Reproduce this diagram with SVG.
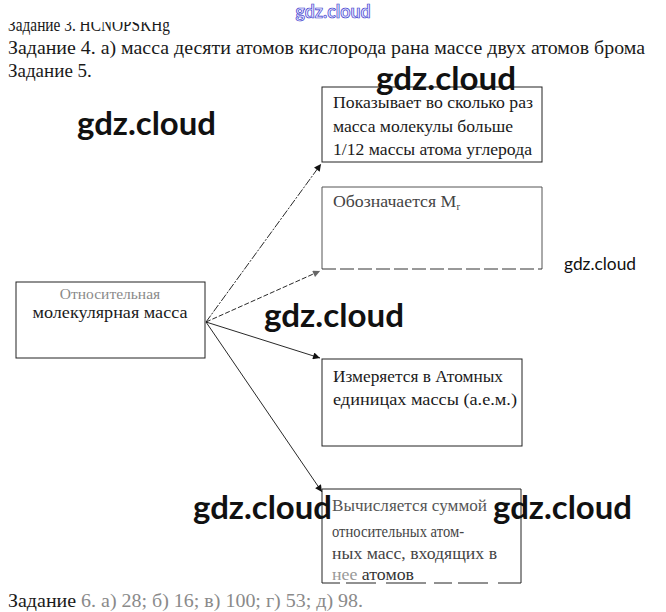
<svg xmlns="http://www.w3.org/2000/svg" width="666" height="612" viewBox="0 0 666 612">
<defs>
<marker id="ah" viewBox="0 0 10 10" refX="10" refY="5" markerWidth="9" markerHeight="7" orient="auto" markerUnits="userSpaceOnUse">
<path d="M0,0 L10,5 L0,10 z" fill="#111"/>
</marker>
<marker id="ahg" viewBox="0 0 10 10" refX="10" refY="5" markerWidth="9" markerHeight="7" orient="auto" markerUnits="userSpaceOnUse">
<path d="M0,0 L10,5 L0,10 z" fill="#666"/>
</marker>
<clipPath id="topclip"><rect x="0" y="22" width="666" height="20"/></clipPath>
</defs>
<style>
.t{font-family:"Liberation Serif","Times New Roman",serif;fill:#1a1a1a}
.hd{font-size:19px}
.bx{font-size:16.5px}
.g{fill:#8a8a8a}
.box{fill:#fff;stroke:#222;stroke-width:1}
.wm{font-family:Lato,"Open Sans",sans-serif;font-weight:bold;font-size:32px;fill:#111}
.wms{font-family:Lato,"Open Sans",sans-serif;font-size:17px;fill:#111}
.ln{stroke:#111;stroke-width:0.9;fill:none}
</style>
<rect width="666" height="612" fill="#fff"/>

<g id="header">
<text class="t hd" x="8" y="31" clip-path="url(#topclip)" textLength="162" lengthAdjust="spacingAndGlyphs">Задание 3. HCNOPSKHg</text>
<text class="t hd" x="8" y="54" textLength="637" lengthAdjust="spacingAndGlyphs">Задание 4. а) масса десяти атомов кислорода рана массе двух атомов брома</text>
<text class="t hd" x="8" y="77">Задание 5.</text>
</g>

<g id="connectors">
<line class="ln" x1="206" y1="322" x2="321" y2="164" stroke="#333" stroke-dasharray="8 1.5 2 1.5" marker-end="url(#ah)"/>
<line class="ln" x1="206" y1="322" x2="320" y2="271" stroke="#666" stroke-dasharray="5 2" marker-end="url(#ahg)"/>
<line class="ln" x1="206" y1="322" x2="320" y2="358" marker-end="url(#ah)"/>
<line class="ln" x1="206" y1="322" x2="322" y2="492" marker-end="url(#ah)"/>
</g>

<g id="node-main">
<rect class="box" x="16" y="282" width="189" height="76"/>
<text class="t g" x="110" y="299" font-size="15.5" text-anchor="middle">Относительная</text>
<text class="t bx" x="110" y="318" text-anchor="middle" textLength="155" lengthAdjust="spacingAndGlyphs">молекулярная масса</text>
</g>

<g id="node-1">
<rect class="box" x="322" y="87" width="220" height="75"/>
<text class="t bx" x="333" y="108" textLength="200" lengthAdjust="spacingAndGlyphs">Показывает во сколько раз</text>
<text class="t bx" x="333" y="132" textLength="180" lengthAdjust="spacingAndGlyphs">масса молекулы больше</text>
<text class="t bx" x="333" y="155" textLength="199" lengthAdjust="spacingAndGlyphs">1/12 массы атома углерода</text>
</g>

<g id="node-2">
<path d="M322,269 V187 H542 V269" fill="none" stroke="#555" stroke-width="1"/>
<line x1="322" y1="269" x2="542" y2="269" stroke="#333" stroke-width="1" stroke-dasharray="14 4"/>
<text class="t bx" x="333" y="207" style="fill:#444" textLength="127" lengthAdjust="spacingAndGlyphs">Обозначается M<tspan font-size="10" dy="3">r</tspan></text>
</g>

<g id="node-3">
<rect class="box" x="322" y="359" width="200" height="87"/>
<text class="t bx" x="333" y="382" textLength="170" lengthAdjust="spacingAndGlyphs">Измеряется в Атомных</text>
<text class="t bx" x="333" y="405" textLength="184" lengthAdjust="spacingAndGlyphs">единицах массы (а.е.м.)</text>
</g>

<g id="node-4">
<path d="M322,583 V489 H521 V583" fill="none" stroke="#222" stroke-width="1"/>
<line x1="322" y1="583" x2="521" y2="583" stroke="#222" stroke-width="1" stroke-dasharray="18 6 30 10 40 8"/>
<text class="t bx" x="332" y="511" style="fill:#555" textLength="155" lengthAdjust="spacingAndGlyphs">Вычисляется суммой</text>
<text class="t bx" x="332" y="537" style="fill:#444" textLength="132" lengthAdjust="spacingAndGlyphs">относительных атом-</text>
<text class="t bx" x="332" y="559" style="fill:#444" textLength="165" lengthAdjust="spacingAndGlyphs">ных масс, входящих в</text>
<text class="t bx" x="332" y="580" style="fill:#999" textLength="82" lengthAdjust="spacingAndGlyphs">нее <tspan style="fill:#333">атомов</tspan></text>
</g>

<g id="footer">
<text class="t hd" x="8" y="607" textLength="355" lengthAdjust="spacingAndGlyphs">Задание <tspan class="g">6. а) 28; б) 16; в) 100; г) 53; д) 98.</tspan></text>
</g>

<g id="watermarks">
<text x="333" y="18" text-anchor="middle" font-family="Lato,'Open Sans',sans-serif" font-weight="bold" font-size="18" fill="#e4e4ff" stroke="#3a3acc" stroke-width="0.7" textLength="75" lengthAdjust="spacingAndGlyphs">gdz.cloud</text>
<text class="wm" x="376" y="90" textLength="140" lengthAdjust="spacingAndGlyphs">gdz.cloud</text>
<text class="wm" x="77" y="135" textLength="139" lengthAdjust="spacingAndGlyphs">gdz.cloud</text>
<text class="wm" x="264" y="327" textLength="140" lengthAdjust="spacingAndGlyphs">gdz.cloud</text>
<text class="wm" x="193" y="519" textLength="139" lengthAdjust="spacingAndGlyphs">gdz.cloud</text>
<text class="wm" x="493" y="519" textLength="139" lengthAdjust="spacingAndGlyphs">gdz.cloud</text>
<text class="wms" x="564" y="270" textLength="72" lengthAdjust="spacingAndGlyphs">gdz.cloud</text>
</g>
</svg>
